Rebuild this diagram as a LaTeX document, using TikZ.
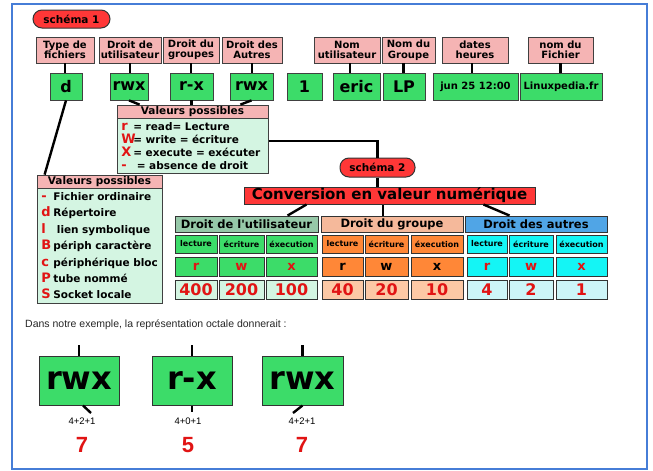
\documentclass[tikz,border=0pt]{standalone}
\usepackage{fontspec}
\setmainfont{DejaVu Sans}
\newfontfamily\arialfont{Liberation Sans}

\definecolor{rosepale}{RGB}{245,180,180}
\definecolor{vertvif}{RGB}{60,220,105}
\definecolor{menthe}{RGB}{212,245,226}
\definecolor{rougevif}{RGB}{255,55,55}
\definecolor{rougetxt}{RGB}{225,20,20}
\definecolor{grisvert}{RGB}{150,200,168}
\definecolor{saumon}{RGB}{245,185,155}
\definecolor{orangevif}{RGB}{255,135,55}
\definecolor{peche}{RGB}{252,200,165}
\definecolor{bleuciel}{RGB}{80,165,230}
\definecolor{cyanvif}{RGB}{20,245,245}
\definecolor{cyanpale}{RGB}{205,245,248}
\definecolor{cadre}{RGB}{70,125,215}

\newcommand{\rlettre}[1]{\makebox[12pt][l]{\textcolor{rougetxt}{\fontsize{13}{13}\selectfont #1}}}

\begin{document}
\begin{tikzpicture}[x=1pt,y=-1pt,
  tete/.style={draw=black!75,fill=rosepale,line width=0.8pt,inner sep=0pt,minimum height=26pt,align=center,font=\bfseries\fontsize{10}{10.5}\selectfont},
  vert/.style={draw=black!75,fill=vertvif,line width=0.8pt,inner sep=0pt,minimum height=27pt,font=\bfseries\fontsize{16}{16}\selectfont},
  pilule/.style={draw=black!80,fill=rougevif,line width=1pt,rounded corners=9pt,inner sep=0pt,font=\bfseries\fontsize{10.5}{11}\selectfont},
  lien/.style={line width=2.4pt},
  titrebox/.style={draw=black!75,fill=rosepale,line width=0.8pt,inner sep=0pt,minimum height=13pt,font=\bfseries\fontsize{10.5}{11}\selectfont},
  corps/.style={draw=black!75,fill=menthe,line width=0.8pt,inner sep=4pt,anchor=north west,align=left,font=\bfseries\fontsize{10.5}{13}\selectfont},
  groupe/.style={draw=black!80,line width=0.9pt,inner sep=0pt,minimum height=16pt,font=\bfseries\fontsize{11.5}{12}\selectfont},
  cellule/.style={draw=black!80,line width=0.9pt,inner sep=0pt},
  lbl/.style={cellule,minimum height=18pt,font=\bfseries\fontsize{8}{8}\selectfont},
  lettre/.style={cellule,minimum height=19pt,font=\bfseries\fontsize{13}{13}\selectfont},
  nombre/.style={cellule,minimum height=19pt,text=rougetxt,font=\bfseries\fontsize{16}{16}\selectfont},
  grosbloc/.style={draw=black!80,fill=vertvif,line width=1pt,inner sep=0pt,minimum width=80pt,minimum height=49pt,font=\bfseries\fontsize{32}{32}\selectfont},
  somme/.style={font=\arialfont\fontsize{9.5}{10}\selectfont},
  octal/.style={text=rougetxt,font=\arialfont\bfseries\fontsize{22}{22}\selectfont}]
  \useasboundingbox (0,0) rectangle (653,471);
  \draw[cadre,line width=2pt] (12,4) rectangle (647,469);

%% schema 1 : la ligne de ls
  \node (SCH1) at (71.5,19) [pilule,minimum width=77pt,minimum height=18pt] {schéma 1};

  \node (TYPE)  at (65,50)    [tete,minimum width=58pt] {Type de\\fichiers};
  \node (DUTIL) at (130,50)   [tete,minimum width=62pt] {Droit de\\utilisateur};
  \node (DGRP)  at (191,50)   [tete,minimum width=56pt] {Droit du\\groupes};
  \node (DAUT)  at (252,50)   [tete,minimum width=60pt] {Droit des\\Autres};
  \node (NOMU)  at (347,50)   [tete,minimum width=66pt] {Nom\\utilisateur};
  \node (NOMG)  at (408.5,50) [tete,minimum width=53pt] {Nom du\\Groupe};
  \node (DATE)  at (475,50)   [tete,minimum width=66pt] {dates\\heures};
  \node (FICH)  at (560.5,50) [tete,minimum width=65pt] {nom du\\Fichier};

  \node (D)     at (66,86.5)    [vert,minimum width=32pt] {d};
  \node (RWXU)  at (129,86.5)   [vert,minimum width=38pt] {rwx};
  \node (RXG)   at (191.5,86.5) [vert,minimum width=43pt] {r-x};
  \node (RWXA)  at (251.5,86.5) [vert,minimum width=43pt] {rwx};
  \node (UN)    at (304.5,86.5) [vert,minimum width=35pt] {1};
  \node (ERIC)  at (356.5,86.5) [vert,minimum width=47pt] {eric};
  \node (LP)    at (404,86.5)   [vert,minimum width=42pt] {LP};
  \node (JUN)   at (475.5,86.5) [vert,minimum width=85pt,font=\bfseries\fontsize{10}{10}\selectfont] {jun 25 12:00};
  \node (LINUX) at (561,86.5)   [vert,minimum width=82pt,font=\bfseries\fontsize{10}{10}\selectfont] {Linuxpedia.fr};

  \draw[lien] (TYPE.south)  -- (TYPE.south |- D.north);
  \draw[lien] (DUTIL.south) -- (DUTIL.south |- RWXU.north);
  \draw[lien] (DGRP.south)  -- (DGRP.south |- RXG.north);
  \draw[lien] (DAUT.south)  -- (DAUT.south |- RWXA.north);
  \draw[lien] ([xshift=3pt]NOMU.south) -- ([xshift=3pt]NOMU.south |- ERIC.north);
  \draw[lien] ([xshift=-5pt]NOMG.south) -- ([xshift=-5pt]NOMG.south |- LP.north);
  \draw[lien] ([xshift=-3pt]DATE.south) -- ([xshift=-3pt]DATE.south |- JUN.north);
  \draw[lien] (FICH.south)  -- (FICH.south |- LINUX.north);

%% valeurs possibles des droits
  \node (VAL1T) at (192.5,111.5) [titrebox,minimum width=151pt] {Valeurs possibles};
  \node (VAL1B) at (117,118) [corps,minimum width=151pt,minimum height=52pt,text width=143pt]
    {\rlettre{r}= read= Lecture\\
     \rlettre{W}= write = écriture\\
     \rlettre{X}= execute = exécuter\\
     \rlettre{-}\ = absence de droit};

  \draw[lien] (RWXU.south) -- ([xshift=23pt]VAL1T.north west);
  \draw[lien] (RXG.south)  -- (RXG.south |- VAL1T.north);
  \draw[lien] (RWXA.south) -- ([xshift=-28pt]VAL1T.north east);

%% valeurs possibles du type
  \node (VAL2T) at (99.5,181.5) [titrebox,minimum width=125pt] {Valeurs possibles};
  \node (VAL2B) at (37,188) [corps,minimum width=125pt,minimum height=115pt,text width=117pt,font=\bfseries\fontsize{10.5}{16.4}\selectfont]
    {\rlettre{-}Fichier ordinaire\\
     \rlettre{d}Répertoire\\
     \rlettre{l}\ lien symbolique\\
     \rlettre{B}périph caractère\\
     \rlettre{c}périphérique bloc\\
     \rlettre{P}tube nommé\\
     \rlettre{S}Socket locale};

  \draw[lien] (D.south) -- ([xshift=8pt]VAL2T.north west);

%% schema 2 : conversion
  \node (SCH2) at (377.5,167.5) [pilule,minimum width=75pt,minimum height=19pt] {schéma 2};
  \node (CONV) at (389.5,195.5) [draw=black!80,fill=rougevif,line width=1pt,inner sep=0pt,minimum width=291pt,minimum height=17pt,font=\bfseries\fontsize{15}{15}\selectfont] {Conversion en valeur numérique};

  \draw[lien] ([yshift=5pt]VAL1B.east) -| (SCH2.north);
  \draw[lien] (SCH2.south) -- (SCH2.south |- CONV.north);

  \node (GU) at (246.5,224) [groupe,fill=grisvert,minimum width=143pt] {Droit de l\textquotesingle utilisateur};
  \node (GG) at (392,224)   [groupe,fill=saumon,minimum width=142pt] {Droit du groupe};
  \node (GA) at (536,224)   [groupe,fill=bleuciel,minimum width=142pt] {Droit des autres};

  \draw[lien] ([xshift=63pt]CONV.south west) -- ([xshift=113pt]GU.north west);
  \draw[lien] ([xshift=-9pt]GG.north) -- ([xshift=-9pt]GG.north |- CONV.south);
  \draw[lien] ([xshift=-52pt]CONV.south east) -- ([xshift=45pt]GA.north west);

  \node (L1) at (196,244)   [lbl,fill=vertvif,minimum width=42pt] {lecture};
  \node (L2) at (241.5,244) [lbl,fill=vertvif,minimum width=45pt] {écriture};
  \node (L3) at (291.5,244) [lbl,fill=vertvif,minimum width=51pt] {éxecution};
  \node (L4) at (342.5,244) [lbl,fill=orangevif,minimum width=41pt] {lecture};
  \node (L5) at (386.5,244) [lbl,fill=orangevif,minimum width=43pt] {écriture};
  \node (L6) at (437,244)   [lbl,fill=orangevif,minimum width=52pt] {éxecution};
  \node (L7) at (487,244)   [lbl,fill=cyanvif,minimum width=40pt] {lecture};
  \node (L8) at (531,244)   [lbl,fill=cyanvif,minimum width=44pt] {écriture};
  \node (L9) at (581.5,244) [lbl,fill=cyanvif,minimum width=51pt] {éxecution};

  \node (R1) at (196,266.5)   [lettre,fill=vertvif,text=rougetxt,minimum width=42pt] {r};
  \node (R2) at (241.5,266.5) [lettre,fill=vertvif,text=rougetxt,minimum width=45pt] {w};
  \node (R3) at (291.5,266.5) [lettre,fill=vertvif,text=rougetxt,minimum width=51pt] {x};
  \node (R4) at (342.5,266.5) [lettre,fill=orangevif,minimum width=41pt] {r};
  \node (R5) at (386.5,266.5) [lettre,fill=orangevif,minimum width=43pt] {w};
  \node (R6) at (437,266.5)   [lettre,fill=orangevif,minimum width=52pt] {x};
  \node (R7) at (487,266.5)   [lettre,fill=cyanvif,text=rougetxt,minimum width=40pt] {r};
  \node (R8) at (531,266.5)   [lettre,fill=cyanvif,text=rougetxt,minimum width=44pt] {w};
  \node (R9) at (581.5,266.5) [lettre,fill=cyanvif,text=rougetxt,minimum width=51pt] {x};

  \node (N1) at (196,289.5)   [nombre,fill=menthe,minimum width=42pt] {400};
  \node (N2) at (241.5,289.5) [nombre,fill=menthe,minimum width=45pt] {200};
  \node (N3) at (291.5,289.5) [nombre,fill=menthe,minimum width=51pt] {100};
  \node (N4) at (342.5,289.5) [nombre,fill=peche,minimum width=41pt] {40};
  \node (N5) at (386.5,289.5) [nombre,fill=peche,minimum width=43pt] {20};
  \node (N6) at (437,289.5)   [nombre,fill=peche,minimum width=52pt] {10};
  \node (N7) at (487,289.5)   [nombre,fill=cyanpale,minimum width=40pt] {4};
  \node (N8) at (531,289.5)   [nombre,fill=cyanpale,minimum width=44pt] {2};
  \node (N9) at (581.5,289.5) [nombre,fill=cyanpale,minimum width=51pt] {1};

%% representation octale
  \node (PHRASE) at (25,325) [anchor=west,inner sep=0pt,text=black!85,font=\arialfont\fontsize{10.5}{11}\selectfont] {Dans notre exemple, la représentation octale donnerait :};

  \node (B1) at (79,380.5)    [grosbloc] {rwx};
  \node (B2) at (192,380.5)   [grosbloc] {r-x};
  \node (B3) at (302.5,380.5) [grosbloc,minimum width=81pt] {rwx};

  \coordinate (B1H) at (79,345);
  \coordinate (B2H) at (192,345);
  \coordinate (B3H) at (302.5,345);
  \coordinate (B1B) at (91,413);
  \coordinate (B2B) at (192,412);
  \coordinate (B3B) at (293,413);
  \draw[lien] (B1H) -- (B1.north);
  \draw[lien] (B2H) -- (B2.north);
  \draw[lien] (B3H) -- (B3.north);
  \draw[lien] ([xshift=4pt]B1.south) -- (B1B);
  \draw[lien] (B2.south) -- (B2B);
  \draw[lien] (B3.south) -- (B3B);

  \node (S1) at (82,421)  [somme] {4+2+1};
  \node (S2) at (188,421) [somme] {4+0+1};
  \node (S3) at (302,421) [somme] {4+2+1};
  \node (O1) at (82,445)  [octal] {7};
  \node (O2) at (188,445) [octal] {5};
  \node (O3) at (302,445) [octal] {7};
\end{tikzpicture}
\end{document}
